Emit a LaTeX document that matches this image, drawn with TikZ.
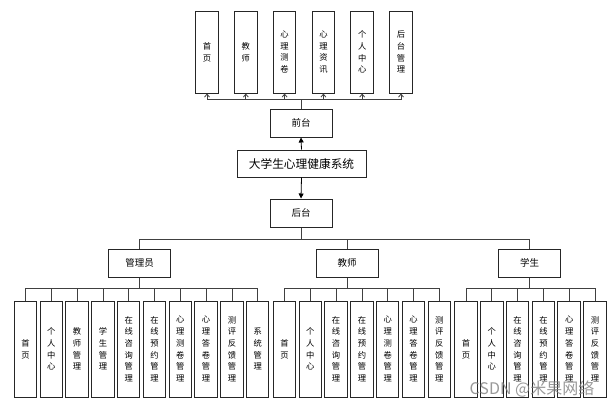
\documentclass[tikz,border=0pt]{standalone}
\usepackage{fontspec}
\newfontfamily\cjk{Noto Sans CJK SC}
\usetikzlibrary{arrows.meta}
\begin{document}
\begin{tikzpicture}[x=1pt,y=-1pt,
  box/.style={draw=black!85,line width=1pt,fill=white,inner sep=0pt,align=center,
    font=\cjk\fontsize{8.3}{11.7}\selectfont},
  topbox/.style={box,minimum width=22.5pt,minimum height=82pt},
  leaf/.style={box,minimum width=22.5pt,minimum height=96pt},
  midbox/.style={box,minimum width=62pt,minimum height=28pt,font=\cjk\fontsize{9.5}{11}\selectfont},
  sysbox/.style={box,minimum width=129pt,minimum height=27pt,font=\cjk\fontsize{11.7}{13}\selectfont},
  conn/.style={draw=black!75,line width=0.8pt},
  uparr/.style={conn,-{Straight Barb[length=3pt,width=5pt]}},
  triarr/.style={conn,draw=black,-{Triangle[length=5pt,width=5pt]}}
]
\useasboundingbox (0,0) rectangle (616,407);
\fill[white] (0,0) rectangle (616,407);

% top boxes
\node[topbox] (t1) at (207,52) {首\\页};
\node[topbox] (t2) at (245.8,52) {教\\师};
\node[topbox] (t3) at (284.6,52) {心\\理\\测\\卷};
\node[topbox] (t4) at (323.4,52) {心\\理\\资\\讯};
\node[topbox] (t5) at (362.2,52) {个\\人\\中\\心};
\node[topbox] (t6) at (401,52) {后\\台\\管\\理};

\node[midbox] (qt) at (301,123) {前台};
\node[sysbox] (sys) at (301.5,163.5) {大学生心理健康系统};
\node[midbox] (ht) at (301,213) {后台};

\coordinate (topbus) at (301,99);
\draw[conn] (qt.north) -- (topbus);
\foreach \i in {1,...,6} {\draw[uparr] (topbus) -| (t\i.south);}

\draw[triarr] (sys.north) -- (qt.south);
\draw[triarr] (sys.south) -- (ht.north);

% roles
\node[midbox] (adm) at (139.5,263) {管理员};
\node[midbox] (tea) at (347,263) {教师};
\node[midbox] (stu) at (529.5,263) {学生};

\coordinate (bus2) at (301,239);
\draw[conn] (ht.south) -- (bus2);
\draw[conn] (bus2) -| (adm.north);
\draw[conn] (bus2) -| (tea.north);
\draw[conn] (bus2) -| (stu.north);

% admin leaves
\node[leaf] (a1) at (25.5,349) {首\\页};
\node[leaf] (a2) at (51.3,349) {个\\人\\中\\心};
\node[leaf] (a3) at (77.1,349) {教\\师\\管\\理};
\node[leaf] (a4) at (102.9,349) {学\\生\\管\\理};
\node[leaf] (a5) at (128.7,349) {在\\线\\咨\\询\\管\\理};
\node[leaf] (a6) at (154.5,349) {在\\线\\预\\约\\管\\理};
\node[leaf] (a7) at (180.3,349) {心\\理\\测\\卷\\管\\理};
\node[leaf] (a8) at (206.1,349) {心\\理\\答\\卷\\管\\理};
\node[leaf] (a9) at (231.9,349) {测\\评\\反\\馈\\管\\理};
\node[leaf] (a10) at (257.7,349) {系\\统\\管\\理};

\coordinate (abus) at (139.5,288);
\draw[conn] (adm.south) -- (abus);
\foreach \i in {1,...,10} {\draw[conn] (abus) -| (a\i.north);}

% teacher leaves
\node[leaf] (b1) at (284.5,349) {首\\页};
\node[leaf] (b2) at (310.3,349) {个\\人\\中\\心};
\node[leaf] (b3) at (336.1,349) {在\\线\\咨\\询\\管\\理};
\node[leaf] (b4) at (361.9,349) {在\\线\\预\\约\\管\\理};
\node[leaf] (b5) at (387.7,349) {心\\理\\测\\卷\\管\\理};
\node[leaf] (b6) at (413.5,349) {心\\理\\答\\卷\\管\\理};
\node[leaf] (b7) at (439.3,349) {测\\评\\反\\馈\\管\\理};

\coordinate (bbus) at (347,288);
\draw[conn] (tea.south) -- (bbus);
\foreach \i in {1,...,7} {\draw[conn] (bbus) -| (b\i.north);}

% student leaves
\node[leaf] (c1) at (466,349) {首\\页};
\node[leaf] (c2) at (491.8,349) {个\\人\\中\\心};
\node[leaf] (c3) at (517.6,349) {在\\线\\咨\\询\\管\\理};
\node[leaf] (c4) at (543.4,349) {在\\线\\预\\约\\管\\理};
\node[leaf] (c5) at (569.2,349) {心\\理\\答\\卷\\管\\理};
\node[leaf] (c6) at (595,349) {测\\评\\反\\馈\\管\\理};

\coordinate (cbus) at (529.5,288);
\draw[conn] (stu.south) -- (cbus);
\foreach \i in {1,...,6} {\draw[conn] (cbus) -| (c\i.north);}

% watermark
\node[text=black!50,opacity=0.8,font=\cjk\fontsize{16}{16}\selectfont,inner sep=0pt] (wm) at (532,389) {CSDN @米果网络};
\end{tikzpicture}
\end{document}
